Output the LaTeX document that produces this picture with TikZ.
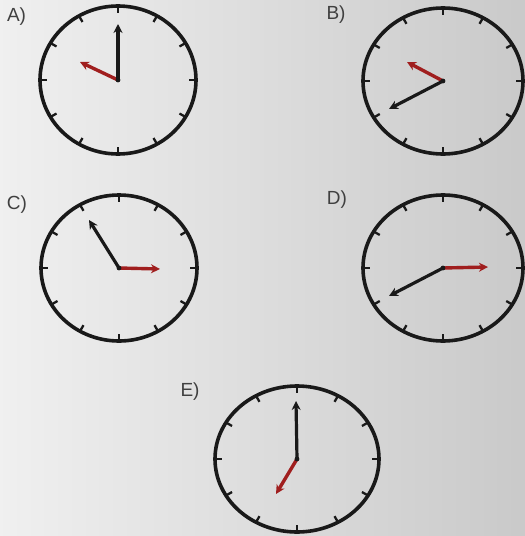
\documentclass[tikz,border=0pt]{standalone}
\usepackage{fontspec}
\setmainfont{Liberation Sans}
\usetikzlibrary{arrows.meta,calc}
\definecolor{handred}{RGB}{160,30,30}
\definecolor{ink}{RGB}{25,25,25}
\tikzset{
  face/.style={line width=3.6pt, draw=ink},
  tickmark/.style={line width=2.3pt, draw=ink},
  minhand/.style={line width=3.2pt, draw=ink, -{Stealth[length=9pt,width=9pt]}},
  hourhand/.style={line width=3.4pt, draw=handred, -{Stealth[length=9pt,width=9pt]}},
  hub/.style={fill=ink},
  lbl/.style={font=\fontsize{19}{19}\selectfont, text=black!75, inner sep=0pt},
}
% name, cx, cy, rx, ry
\newcommand\myclock[5]{%
  \coordinate (#1) at (#2,#3);
  \draw[face] (#1) ellipse [x radius=#4pt, y radius=#5pt];
  \foreach \a in {0,30,...,330}{
    \draw[tickmark] ({#2+#4*cos(\a)},{#3+#5*sin(\a)}) -- ({#2+(#4-7)*cos(\a)},{#3+(#5-7)*sin(\a)});
  }
}
% center, minute tip, hour tip
\newcommand\myhands[3]{%
  \draw[hourhand] (#1) -- (#3);
  \draw[minhand] (#1) -- (#2);
  \fill[hub] (#1) circle (2.4pt);
}
\begin{document}
\begin{tikzpicture}[x=1pt,y=-1pt]
  \shade[left color=gray!12, right color=gray!42] (0,0) rectangle (525,536);
  \useasboundingbox (0,0) rectangle (525,536);

  % A
  \myclock{cA}{118}{80}{78}{74}
  \coordinate (mA) at (118,24);
  \coordinate (hA) at (80,62);
  \myhands{cA}{mA}{hA}
  \node[lbl] (lA) at (16.5,17) {A)};

  % B
  \myclock{cB}{443}{81}{80}{73}
  \coordinate (mB) at (389,109);
  \coordinate (hB) at (407,62);
  \myhands{cB}{mB}{hB}
  \node[lbl] (lB) at (336,15) {B)};

  % C
  \myclock{cC}{119}{268}{78}{73}
  \coordinate (mC) at (89,220);
  \coordinate (hC) at (160,269);
  \myhands{cC}{mC}{hC}
  \node[lbl] (lC) at (17,205) {C)};

  % D
  \myclock{cD}{443}{268}{80}{73}
  \coordinate (mD) at (389,296);
  \coordinate (hD) at (488,267);
  \myhands{cD}{mD}{hD}
  \node[lbl] (lD) at (337,200) {D)};

  % E
  \myclock{cE}{297}{459}{82}{73}
  \coordinate (mE) at (296,401);
  \coordinate (hE) at (276,494);
  \myhands{cE}{mE}{hE}
  \node[lbl] (lE) at (190,392) {E)};
\end{tikzpicture}
\end{document}
